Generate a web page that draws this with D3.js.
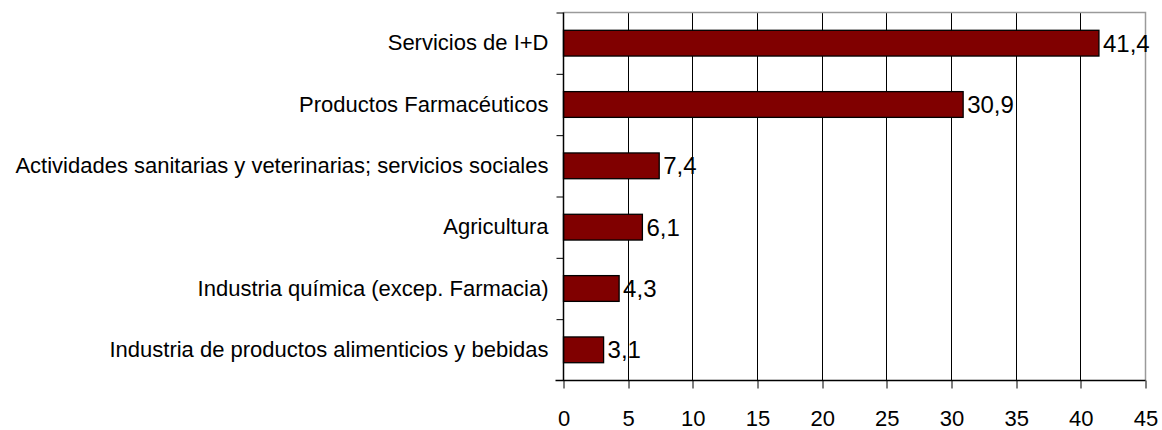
<!DOCTYPE html>
<html>
<head>
<meta charset="utf-8">
<script src="https://cdn.jsdelivr.net/npm/d3@7"></script>
<style>
  body { margin: 0; background: #fff; }
  svg { display: block; font-family: "Liberation Sans", Arial, sans-serif; }
</style>
</head>
<body>
<svg id="chart"></svg>
<script>
// categories top to bottom and their values
const categories = [
  "Servicios de I+D",
  "Productos Farmacéuticos",
  "Actividades sanitarias y veterinarias; servicios sociales",
  "Agricultura",
  "Industria química (excep. Farmacia)",
  "Industria de productos alimenticios y bebidas"
];
const values = [41.4, 30.9, 7.4, 6.1, 4.3, 3.1];
const valueLabels = ["41,4", "30,9", "7,4", "6,1", "4,3", "3,1"];
const xTicks = [0, 5, 10, 15, 20, 25, 30, 35, 40, 45];

const width = 1162;
const height = 430;
const plotLeft = 563.5, plotRight = 1145.5, plotTop = 12.5, plotBottom = 380.5;

const svg = d3.select("#chart")
    .attr("width", width)
    .attr("height", height);

const x = d3.scaleLinear().domain([0, 45]).range([plotLeft, plotRight]);
const y = d3.scaleBand()
    .domain(categories)
    .range([plotTop, plotBottom])
    .paddingInner(0.58)
    .paddingOuter(0.29);

// snap thin lines to pixel centers
const crisp = v => Math.round(v - 0.5) + 0.5;

// vertical gridlines
svg.append("g")
  .selectAll("line")
  .data(xTicks.slice(1, -1))
  .join("line")
    .attr("x1", d => crisp(x(d))).attr("x2", d => crisp(x(d)))
    .attr("y1", plotTop).attr("y2", plotBottom)
    .attr("stroke", "#000")
    .attr("stroke-width", 1);

// plot border top and right (gray)
svg.append("path")
    .attr("d", `M${plotLeft},${plotTop}H${plotRight}V${plotBottom}`)
    .attr("fill", "none")
    .attr("stroke", "#9a9a9a")
    .attr("stroke-width", 1.5);

// bars
svg.append("g")
  .selectAll("rect")
  .data(values)
  .join("rect")
    .attr("x", x(0))
    .attr("y", (d, i) => y(categories[i]))
    .attr("width", d => x(d) - x(0))
    .attr("height", y.bandwidth())
    .attr("fill", "#800000")
    .attr("stroke", "#000")
    .attr("stroke-width", 1.3);

// value labels
svg.append("g")
  .selectAll("text")
  .data(values)
  .join("text")
    .attr("x", d => x(d) + 4)
    .attr("y", (d, i) => y(categories[i]) + y.bandwidth() / 2)
    .attr("dy", "0.36em")
    .attr("font-size", 24)
    .attr("fill", "#000")
    .text((d, i) => valueLabels[i]);

// x axis
const xAxis = svg.append("g")
    .attr("transform", `translate(0,${plotBottom})`)
    .call(d3.axisBottom(x).tickValues(xTicks).tickSize(8).tickSizeOuter(0).tickPadding(22));
xAxis.select(".domain").attr("stroke", "#000").attr("stroke-width", 1.5)
    .attr("d", `M${plotLeft - 8},0H${plotRight}`);
xAxis.selectAll(".tick line").attr("stroke", "#000")
    .attr("transform", d => `translate(${crisp(x(d)) - x(d)},0)`);
xAxis.selectAll("text").attr("font-size", 22).attr("fill", "#000")
    .attr("font-family", "Liberation Sans, Arial, sans-serif");

// y axis: ticks at band boundaries
const yEdge = d3.scaleLinear().domain([0, categories.length]).range([plotTop, plotBottom]);
const yTicks = svg.append("g")
    .attr("transform", `translate(${plotLeft},0)`)
    .call(d3.axisLeft(yEdge).tickValues(d3.range(categories.length)).tickSize(7).tickFormat(""));
yTicks.select(".domain").attr("stroke", "#000").attr("stroke-width", 1.5)
    .attr("d", `M0,${plotTop}V${plotBottom}`);
yTicks.selectAll(".tick line").attr("stroke", "#000");

// category labels
const yAxis = svg.append("g")
    .attr("transform", `translate(${plotLeft},0)`)
    .call(d3.axisLeft(y).tickSize(0).tickPadding(15));
yAxis.select(".domain").remove();
yAxis.selectAll("text").attr("font-size", 22).attr("fill", "#000")
    .attr("font-family", "Liberation Sans, Arial, sans-serif");
</script>
</body>
</html>
